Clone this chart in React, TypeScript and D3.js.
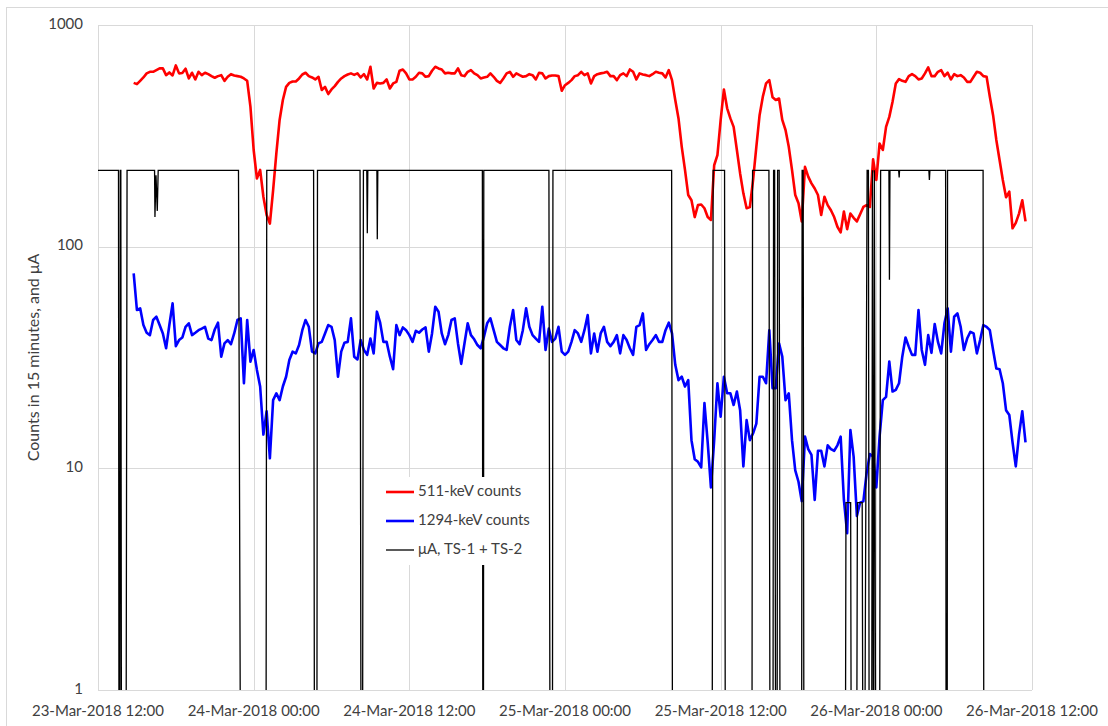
import React, { useRef, useEffect } from 'react';
import * as d3 from 'd3';

// time axis: 23-Mar-2018 12:00 .. 26-Mar-2018 12:00 (UTC so no DST shift)
const START = new Date(Date.UTC(2018, 2, 23, 12, 0));
const END = new Date(Date.UTC(2018, 2, 26, 12, 0));
const FIRST_SAMPLE_HOUR = 2.75; // first 15-minute bin, hours after START
const SAMPLE_STEP_HOURS = 0.25;

// 511-keV counts per 15 minutes
const counts511 = [
  548, 541, 560, 580, 605, 615, 615, 626, 637, 637,
  594, 611, 592, 657, 605, 607, 635, 574, 609, 568,
  615, 594, 609, 600, 588, 578, 588, 594, 560, 584,
  600, 592, 588, 584, 574, 560, 428, 273, 203, 222,
  168, 139, 127, 180, 264, 373, 459, 526, 548, 556,
  556, 574, 598, 609, 588, 580, 568, 584, 509, 526,
  488, 512, 530, 554, 574, 588, 598, 605, 596, 605,
  580, 600, 568, 648, 517, 548, 545, 548, 568, 517,
  545, 554, 622, 630, 605, 568, 568, 584, 609, 605,
  584, 588, 622, 648, 637, 630, 605, 609, 605, 605,
  637, 594, 588, 615, 626, 605, 594, 574, 580, 584,
  605, 584, 560, 548, 574, 605, 615, 584, 605, 594,
  584, 588, 600, 594, 568, 609, 605, 574, 588, 592,
  592, 588, 505, 535, 548, 564, 588, 594, 615, 594,
  605, 545, 588, 600, 605, 609, 615, 588, 588, 564,
  594, 605, 588, 630, 615, 568, 605, 598, 594, 588,
  600, 615, 609, 605, 580, 626, 564, 459, 379, 282,
  222, 171, 162, 136, 154, 155, 149, 136, 132, 233,
  259, 373, 512, 421, 379, 347, 273, 214, 174, 149,
  151, 200, 282, 392, 475, 545, 564, 472, 459, 466,
  373, 336, 282, 222, 171, 157, 130, 229, 207, 193,
  183, 171, 139, 168, 154, 146, 136, 123, 116, 144,
  120, 141, 135, 130, 140, 151, 154, 151, 248, 200,
  292, 273, 347, 385, 451, 545, 570, 560, 554, 588,
  600, 588, 568, 574, 605, 644, 588, 588, 615, 626,
  588, 609, 568, 600, 588, 594, 580, 554, 554, 584,
  615, 609, 588, 584, 475, 392, 303, 246, 200, 167,
  177, 121, 128, 141, 162, 130,
];

// 1294-keV counts per 15 minutes
const counts1294 = [
  75.8, 51.8, 52.7, 44.3, 40.9, 39.9, 46.7, 48.3, 44.3, 40.6,
  34.8, 44.3, 55.5, 35.6, 37.9, 38.9, 43.5, 45.1, 39.9, 40.9,
  42.0, 42.7, 43.5, 38.5, 37.9, 42.3, 45.4, 31.9, 36.6, 37.9,
  36.3, 40.6, 46.7, 47.5, 24.2, 46.7, 30.3, 34.2, 27.8, 23.4,
  14.2, 18.1, 11.1, 20.3, 21.8, 20.3, 23.4, 25.9, 30.8, 33.6,
  33.0, 36.0, 42.0, 46.7, 43.5, 33.6, 33.0, 36.6, 37.2, 40.6,
  44.3, 43.5, 37.9, 25.9, 33.6, 36.9, 37.2, 47.5, 31.9, 31.0,
  37.9, 34.2, 32.5, 38.5, 33.0, 50.9, 45.4, 37.2, 37.2, 31.9,
  28.0, 44.3, 39.9, 43.2, 42.0, 39.9, 37.2, 41.7, 40.9, 42.3,
  43.2, 33.6, 40.6, 53.6, 50.9, 40.6, 36.3, 39.9, 46.7, 47.5,
  36.6, 29.6, 36.6, 45.1, 39.9, 38.2, 36.0, 34.8, 39.2, 45.1,
  47.5, 42.0, 37.2, 36.0, 34.8, 34.2, 43.5, 51.8, 37.9, 36.3,
  42.0, 52.7, 43.5, 39.9, 38.5, 37.2, 53.6, 34.2, 42.7, 37.2,
  38.5, 43.5, 33.6, 32.5, 33.6, 37.2, 42.0, 40.6, 37.2, 42.0,
  49.1, 33.0, 40.6, 33.6, 40.6, 43.5, 37.2, 35.6, 37.2, 39.9,
  33.0, 39.9, 37.9, 34.8, 32.5, 43.5, 44.3, 50.0, 34.2, 36.3,
  37.9, 39.9, 37.2, 37.2, 42.0, 45.4, 40.6, 29.3, 25.0, 25.9,
  23.4, 25.0, 13.4, 11.0, 10.7, 10.1, 19.7, 13.1, 8.2, 13.4,
  24.2, 17.1, 25.9, 21.8, 21.8, 19.3, 22.2, 18.3, 10.2, 16.5,
  13.4, 14.4, 15.9, 25.9, 25.9, 24.2, 42.0, 23.0, 23.0, 36.6,
  31.9, 20.3, 21.8, 13.4, 9.8, 8.7, 7.1, 13.9, 12.2, 11.5,
  7.2, 12.0, 12.0, 10.2, 12.7, 12.2, 12.0, 12.7, 13.9, 7.2,
  5.1, 14.9, 11.3, 6.1, 7.0, 7.1, 9.5, 11.6, 11.3, 8.2,
  13.9, 20.3, 21.0, 30.3, 22.2, 22.6, 24.2, 31.9, 38.9, 35.4,
  32.5, 32.5, 51.8, 34.2, 29.3, 39.9, 33.2, 44.8, 37.2, 33.0,
  45.1, 52.7, 33.6, 48.3, 50.0, 43.5, 34.2, 38.5, 41.3, 40.6,
  33.0, 37.9, 44.3, 43.5, 42.0, 34.2, 28.2, 28.0, 24.2, 18.3,
  17.4, 13.1, 10.2, 14.2, 18.1, 13.1,
];

// beam current µA (TS-1 + TS-2): breakpoints, hours after START
const beamHours = [
  0, 1.58, 1.62, 1.68, 1.72, 1.76, 1.81, 2.16, 2.24,
  4.36, 4.39, 4.47, 4.57, 4.64,
  10.83, 10.99, 12.95, 13.01,
  16.62, 16.69, 16.87, 16.92,
  20.20, 20.28, 20.39, 20.46, 20.72, 20.76, 20.80, 21.50, 21.53, 21.57,
  29.63, 29.67, 29.71, 29.74,
  34.76, 34.85, 35.03, 35.07,
  44.22, 44.29, 47.34, 47.42, 48.30, 48.36, 50.41, 50.46,
  51.72, 51.81, 52.03, 52.08, 52.16, 52.24, 52.35, 52.39, 52.51, 52.58,
  54.24, 54.28, 54.36, 54.42,
  57.61, 57.66, 58.02, 58.07, 58.48, 58.54, 58.91, 58.97,
  59.10, 59.29, 59.39, 59.45, 59.64, 59.70, 59.78, 59.85, 59.95, 60.25, 60.33,
  60.97, 61.01, 61.05, 61.72, 61.76, 61.79,
  64.05, 64.09, 64.13, 65.34, 65.38, 65.46, 65.49,
  68.23, 68.29, 72,
];
const beamMicroAmps = [
  221, 221, 0, 0, 221, 221, 0, 0, 221,
  221, 136, 210, 145, 221,
  221, 0, 0, 221,
  221, 0, 0, 221,
  221, 0, 0, 221, 221, 115, 221, 221, 108, 221,
  221, 0, 0, 221,
  221, 0, 0, 221,
  221, 0, 0, 221, 221, 0, 0, 221,
  221, 0, 0, 221, 221, 0, 0, 221, 221, 0,
  0, 221, 221, 0,
  0, 7, 7, 0, 0, 7, 7, 0,
  0, 221, 221, 0, 0, 221, 0, 221, 0, 0, 221,
  221, 71, 221, 221, 205, 221,
  221, 200, 221, 221, 0, 0, 221,
  221, 0, 0,
];

const yTickValues = [1, 10, 100, 1000];
const seriesNames = ['511-keV counts', '1294-keV counts', 'μA, TS-1 + TS-2'];
const seriesColors = ['#FF0000', '#0000FF', '#000000'];
const yAxisTitle = 'Counts in 15 minutes, and μA';

const WIDTH = 1108;
const HEIGHT = 726;
const FONT = 'Lato, "Open Sans", sans-serif';
const HOUR = 3600 * 1000;

export default function App() {
  const svgRef = useRef<SVGSVGElement>(null);

  useEffect(() => {
    if (!svgRef.current) return;
    const svg = d3.select(svgRef.current);
    svg.selectAll('*').remove();

    const margin = { top: 25, right: 76, bottom: 36, left: 98 };
    const w = WIDTH - margin.left - margin.right;
    const h = HEIGHT - margin.top - margin.bottom;

    const x = d3.scaleUtc().domain([START, END]).range([0, w]);
    const y = d3.scaleLog().domain([1, 1000]).range([h, 0]);
    const xTicks = d3.utcHour.every(12)!.range(START, new Date(END.getTime() + 1));
    const fmt = d3.utcFormat('%d-%b-%Y %H:%M');

    // chart area border
    svg.append('rect')
      .attr('x', 6.5).attr('y', 7.5)
      .attr('width', WIDTH).attr('height', HEIGHT)
      .attr('fill', 'white')
      .attr('stroke', '#D9D9D9');

    svg.append('defs').append('clipPath').attr('id', 'plot-clip')
      .append('rect').attr('x', 0).attr('y', 0).attr('width', w).attr('height', h);

    const g = svg.append('g').attr('transform', `translate(${margin.left},${margin.top})`);

    // gridlines
    g.selectAll('line.hgrid').data(yTickValues).join('line')
      .attr('class', 'hgrid')
      .attr('x1', 0).attr('x2', w)
      .attr('y1', (d) => Math.round(y(d)) + 0.5).attr('y2', (d) => Math.round(y(d)) + 0.5)
      .attr('stroke', '#D9D9D9').attr('stroke-width', 1);
    g.selectAll('line.vgrid').data(xTicks).join('line')
      .attr('class', 'vgrid')
      .attr('x1', (d) => Math.round(x(d)) + 0.5).attr('x2', (d) => Math.round(x(d)) + 0.5)
      .attr('y1', 0).attr('y2', h)
      .attr('stroke', '#D9D9D9').attr('stroke-width', 1);

    // y tick labels
    svg.append('g').selectAll('text').data(yTickValues).join('text')
      .attr('x', margin.left - 15)
      .attr('y', (d) => margin.top + y(d))
      .attr('text-anchor', 'end')
      .attr('dominant-baseline', 'middle')
      .attr('font-family', FONT)
      .attr('font-size', '15px')
      .attr('fill', '#404040')
      .text((d) => String(d));

    // x tick labels
    svg.append('g').selectAll('text').data(xTicks).join('text')
      .attr('x', (d) => margin.left + x(d))
      .attr('y', margin.top + h + 22)
      .attr('text-anchor', 'middle')
      .attr('dominant-baseline', 'middle')
      .attr('font-family', FONT)
      .attr('font-size', '15px')
      .attr('fill', '#404040')
      .text((d) => fmt(d));

    // y axis title
    svg.append('text')
      .attr('transform', `translate(39,${margin.top + h / 2}) rotate(-90)`)
      .attr('text-anchor', 'middle')
      .attr('font-family', FONT)
      .attr('font-size', '16px')
      .attr('fill', '#404040')
      .text(yAxisTitle);

    const sampleDate = (i: number) =>
      new Date(START.getTime() + (FIRST_SAMPLE_HOUR + i * SAMPLE_STEP_HOURS) * HOUR);

    const countLine = d3.line<number>()
      .x((_, i) => x(sampleDate(i)))
      .y((d) => y(d));

    const plot = g.append('g').attr('clip-path', 'url(#plot-clip)');

    plot.append('path')
      .datum(counts511)
      .attr('fill', 'none')
      .attr('stroke', seriesColors[0])
      .attr('stroke-width', 2.6)
      .attr('stroke-linejoin', 'round')
      .attr('d', countLine);

    plot.append('path')
      .datum(counts1294)
      .attr('fill', 'none')
      .attr('stroke', seriesColors[1])
      .attr('stroke-width', 2.6)
      .attr('stroke-linejoin', 'round')
      .attr('d', countLine);

    // beam off (0 µA) goes below the log axis -> clipped
    const beamLine = d3.line<number>()
      .x((_, i) => x(new Date(START.getTime() + beamHours[i] * HOUR)))
      .y((d) => y(Math.max(d, 0.3)));

    plot.append('path')
      .datum(beamMicroAmps)
      .attr('fill', 'none')
      .attr('stroke', seriesColors[2])
      .attr('stroke-width', 1.3)
      .attr('d', beamLine);

    // legend (white box over the plot)
    const legend = svg.append('g').attr('transform', 'translate(376,477)');
    legend.append('rect')
      .attr('width', 162).attr('height', 88)
      .attr('fill', 'white');
    seriesNames.forEach((name, i) => {
      const ly = 15 + i * 29;
      legend.append('line')
        .attr('x1', 10).attr('x2', 38)
        .attr('y1', ly).attr('y2', ly)
        .attr('stroke', seriesColors[i])
        .attr('stroke-width', i < 2 ? 2.6 : 1.3);
      legend.append('text')
        .attr('x', 42).attr('y', ly)
        .attr('dominant-baseline', 'middle')
        .attr('font-family', FONT)
        .attr('font-size', '15px')
        .attr('fill', '#404040')
        .text(name);
    });
  }, []);

  return (
    <div style={{ position: 'absolute', left: 0, top: 0, width: WIDTH, height: HEIGHT, background: 'white' }}>
      <svg ref={svgRef} width={WIDTH} height={HEIGHT} style={{ display: 'block' }} />
    </div>
  );
}
